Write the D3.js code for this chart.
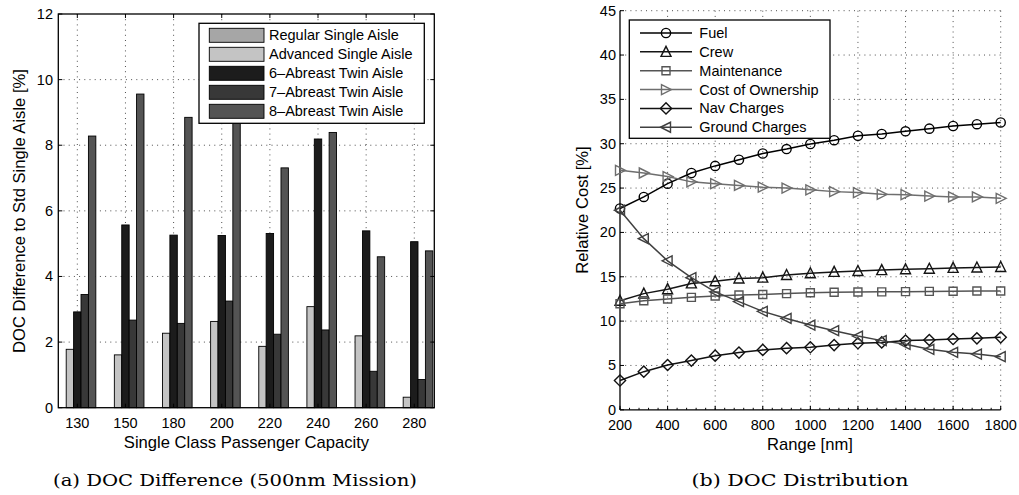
<!DOCTYPE html>
<html><head><meta charset="utf-8">
<script src="https://cdn.jsdelivr.net/npm/d3@7"></script>
<style>body{margin:0;background:#fff}svg{display:block}</style>
</head><body>
<svg id="c" width="1019" height="495" font-family="Liberation Sans, Arial, sans-serif"></svg>
<script>
// ---------- Data: (a) DOC difference ----------
const capacities = ["130","150","180","200","220","240","260","280"];
const barSeries = ["Regular Single Aisle","Advanced Single Aisle","6\u2013Abreast Twin Aisle","7\u2013Abreast Twin Aisle","8\u2013Abreast Twin Aisle"];
const regularSA   = [0,0,0,0,0,0,0,0];
const advancedSA  = [1.78,1.61,2.27,2.63,1.87,3.08,2.19,0.32];
const twin6       = [2.92,5.57,5.26,5.25,5.31,8.19,5.39,5.06];
const twin7       = [3.45,2.67,2.57,3.25,2.24,2.37,1.11,0.86];
const twin8       = [8.28,9.56,8.85,9.20,7.31,8.39,4.60,4.78];
const barColors   = ["#a6a6a6","#c4c4c4","#1c1c1c","#383838","#545454"];
const yTicksA = [0,2,4,6,8,10,12];

// ---------- Data: (b) DOC distribution ----------
const ranges = [200,300,400,500,600,700,800,900,1000,1100,1200,1300,1400,1500,1600,1700,1800];
const fuel  = [22.7,24.0,25.5,26.7,27.5,28.2,28.9,29.4,29.97,30.4,30.9,31.1,31.4,31.7,32.0,32.2,32.4];
const crew  = [12.3,13.1,13.6,14.25,14.5,14.8,14.9,15.2,15.4,15.55,15.65,15.75,15.85,15.9,16.0,16.05,16.1];
const maint = [11.95,12.3,12.5,12.68,12.83,12.94,13.0,13.1,13.2,13.25,13.28,13.3,13.32,13.35,13.37,13.4,13.4];
const owner = [27.0,26.7,26.3,25.7,25.5,25.3,25.1,25.0,24.8,24.6,24.5,24.3,24.25,24.1,24.0,24.0,23.85];
const nav   = [3.3,4.3,5.05,5.55,6.1,6.45,6.75,6.95,7.05,7.3,7.5,7.6,7.8,7.87,7.98,8.06,8.17];
const ground= [22.5,19.3,16.8,14.9,13.3,12.2,11.1,10.3,9.56,8.92,8.32,7.8,7.38,6.82,6.48,6.29,5.99];
const lineNames  = ["Fuel","Crew","Maintenance","Cost of Ownership","Nav Charges","Ground Charges"];
const lineColors = ["#000000","#151515","#555555","#6e6e6e","#111111","#404040"];
const lineMarkers= ["circle","up","square","right","diamond","left"];
const xTicksB = [200,400,600,800,1000,1200,1400,1600,1800];
const yTicksB = [0,5,10,15,20,25,30,35,40,45];

const svg = d3.select("#c");
const FS = "14.5px";
const LS = "16.6px";
const SERIF = "'DejaVu Serif', serif";

// ================= Chart (a) =================
(function(){
  const L=58.3,R=434.3,T=14,B=407.7;
  const x = d3.scaleLinear().domain([0.605, 0.605+(R-L)/48.14]).range([L,R]);
  const y = d3.scaleLinear().domain([0,12]).range([B,T]);
  const g = svg.append("g");
  const grid = g.append("g").attr("stroke","#222").attr("stroke-width",0.8).attr("stroke-dasharray","1,4.2");
  yTicksA.filter(v=>v>0&&v<12).forEach(v=>grid.append("line").attr("x1",L).attr("x2",R).attr("y1",y(v)).attr("y2",y(v)));
  capacities.forEach((c,i)=>grid.append("line").attr("x1",x(i+1)).attr("x2",x(i+1)).attr("y1",T).attr("y2",B));
  const series=[regularSA,advancedSA,twin6,twin7,twin8];
  const bw = Math.min(0.8, 5/6.5)/5;
  series.forEach((s,j)=>{
    g.append("g").selectAll("rect").data(s).join("rect")
      .attr("x",(d,i)=>x(i+1+(j-2)*bw-bw/2))
      .attr("width",x(bw)-x(0))
      .attr("y",d=>y(d)).attr("height",d=>y(0)-y(d))
      .attr("fill",barColors[j]).attr("stroke",d=>d>0?"#000":"none").attr("stroke-width",0.9);
  });
  g.append("rect").attr("x",L).attr("y",T).attr("width",R-L).attr("height",B-T).attr("fill","none").attr("stroke","#000").attr("stroke-width",1.3);
  const tk=g.append("g").attr("stroke","#000").attr("stroke-width",1);
  capacities.forEach((c,i)=>{const xx=x(i+1);
    tk.append("line").attr("x1",xx).attr("x2",xx).attr("y1",B).attr("y2",B-4);
    tk.append("line").attr("x1",xx).attr("x2",xx).attr("y1",T).attr("y2",T+4);});
  yTicksA.forEach(v=>{const yy=y(v);
    tk.append("line").attr("x1",L).attr("x2",L+4).attr("y1",yy).attr("y2",yy);
    tk.append("line").attr("x1",R).attr("x2",R-4).attr("y1",yy).attr("y2",yy);});
  g.selectAll(".xl").data(capacities).join("text").attr("x",(d,i)=>x(i+1)).attr("y",428).attr("text-anchor","middle").attr("font-size",FS).text(d=>d);
  g.selectAll(".yl").data(yTicksA).join("text").attr("x",53).attr("y",d=>y(d)+5).attr("text-anchor","end").attr("font-size",FS).text(d=>d);
  g.append("text").attr("x",246.5).attr("y",448).attr("text-anchor","middle").attr("font-size",LS).text("Single Class Passenger Capacity");
  g.append("text").attr("transform","translate(25,211) rotate(-90)").attr("text-anchor","middle").attr("font-size",LS).text("DOC Difference to Std Single Aisle [%]");
  const lg=g.append("g");
  lg.append("rect").attr("x",199).attr("y",23.3).attr("width",225.3).attr("height",100).attr("fill","#fff").attr("stroke","#000").attr("stroke-width",1.3);
  barSeries.forEach((n,j)=>{const cy=35.3+19*j;
    lg.append("rect").attr("x",209.3).attr("y",cy-7).attr("width",54.7).attr("height",14).attr("fill",barColors[j]).attr("stroke","#000").attr("stroke-width",0.9);
    lg.append("text").attr("x",269).attr("y",cy+5).attr("font-size",FS).text(n);});
  svg.append("text").attr("x",235).attr("y",486).attr("text-anchor","middle").style("font-family",SERIF).attr("font-size","17.5px")
    .attr("textLength",364).attr("lengthAdjust","spacingAndGlyphs").text("(a) DOC Difference (500nm Mission)");
})();

// ================= Chart (b) =================
(function(){
  const L=620,R=1000.7,T=10.7,B=409.8;
  const x=d3.scaleLinear().domain([200,1800]).range([L,R]);
  const y=d3.scaleLinear().domain([0,45]).range([B,T]);
  const g=svg.append("g");
  const grid=g.append("g").attr("stroke","#222").attr("stroke-width",0.8).attr("stroke-dasharray","1,4.2");
  yTicksB.filter(v=>v>0).forEach(v=>grid.append("line").attr("x1",L).attr("x2",R).attr("y1",y(v)).attr("y2",y(v)));
  xTicksB.filter(v=>v>200).forEach(v=>grid.append("line").attr("x1",x(v)).attr("x2",x(v)).attr("y1",T).attr("y2",B));
  const tk=g.append("g").attr("stroke","#000").attr("stroke-width",1);
  d3.range(200,1801,40).forEach(v=>tk.append("line").attr("x1",x(v)).attr("x2",x(v)).attr("y1",B).attr("y2",B-2));
  xTicksB.forEach(v=>tk.append("line").attr("x1",x(v)).attr("x2",x(v)).attr("y1",B).attr("y2",B-4));
  yTicksB.forEach(v=>tk.append("line").attr("x1",L).attr("x2",L+4).attr("y1",y(v)).attr("y2",y(v)));
  g.append("line").attr("x1",L).attr("x2",L).attr("y1",T).attr("y2",B).attr("stroke","#000").attr("stroke-width",1.3);
  g.append("line").attr("x1",L).attr("x2",R).attr("y1",B).attr("y2",B).attr("stroke","#000").attr("stroke-width",1.3);
  g.selectAll(".xl").data(xTicksB).join("text").attr("x",d=>x(d)).attr("y",430).attr("text-anchor","middle").attr("font-size",FS).text(d=>d);
  g.selectAll(".yl").data(yTicksB).join("text").attr("x",616).attr("y",d=>y(d)+5).attr("text-anchor","end").attr("font-size",FS).text(d=>d);
  g.append("text").attr("x",810).attr("y",450).attr("text-anchor","middle").attr("font-size",LS).text("Range [nm]");
  g.append("text").attr("transform","translate(588,210) rotate(-90)").attr("text-anchor","middle").attr("font-size",LS).text("Relative Cost [%]");

  const mk = (t)=>{const s=5;
    switch(t){
      case "circle": return "M4.6,0A4.6,4.6 0 1,1 -4.6,0A4.6,4.6 0 1,1 4.6,0Z";
      case "up": return `M0,${-s-0.5}L${s},${s-0.5}L${-s},${s-0.5}Z`;
      case "square": return "M-4,-4H4V4H-4Z";
      case "right": return `M${s+0.5},0L${-s+0.5},${-s}L${-s+0.5},${s}Z`;
      case "left": return `M${-s-0.5},0L${s-0.5},${-s}L${s-0.5},${s}Z`;
      case "diamond": return "M0,-5.6L5.6,0L0,5.6L-5.6,0Z";
    }};
  const all=[fuel,crew,maint,owner,nav,ground];
  const line=d3.line().x((d,i)=>x(ranges[i])).y(d=>y(d));
  all.forEach((s,k)=>{
    const sg=g.append("g");
    sg.append("path").attr("d",line(s)).attr("fill","none").attr("stroke",lineColors[k]).attr("stroke-width",1.5);
    sg.selectAll("path.m").data(s).join("path").attr("class","m").attr("transform",(d,i)=>`translate(${x(ranges[i])},${y(d)})`)
      .attr("d",mk(lineMarkers[k])).attr("fill","none").attr("stroke",lineColors[k]).attr("stroke-width",1.4);
  });
  const lg=g.append("g");
  lg.append("rect").attr("x",629.3).attr("y",20).attr("width",200.7).attr("height",118.3).attr("fill","#fff").attr("stroke","#000").attr("stroke-width",1.3);
  lineNames.forEach((n,k)=>{const cy=33+18.85*k;
    lg.append("line").attr("x1",640).attr("x2",692).attr("y1",cy).attr("y2",cy).attr("stroke",lineColors[k]).attr("stroke-width",1.5);
    lg.append("path").attr("transform",`translate(666,${cy})`).attr("d",mk(lineMarkers[k])).attr("fill","none").attr("stroke",lineColors[k]).attr("stroke-width",1.4);
    lg.append("text").attr("x",699.3).attr("y",cy+5).attr("font-size",FS).text(n);});
  svg.append("text").attr("x",800).attr("y",486).attr("text-anchor","middle").style("font-family",SERIF).attr("font-size","17.5px")
    .attr("textLength",217).attr("lengthAdjust","spacingAndGlyphs").text("(b) DOC Distribution");
})();
</script>
</body></html>
